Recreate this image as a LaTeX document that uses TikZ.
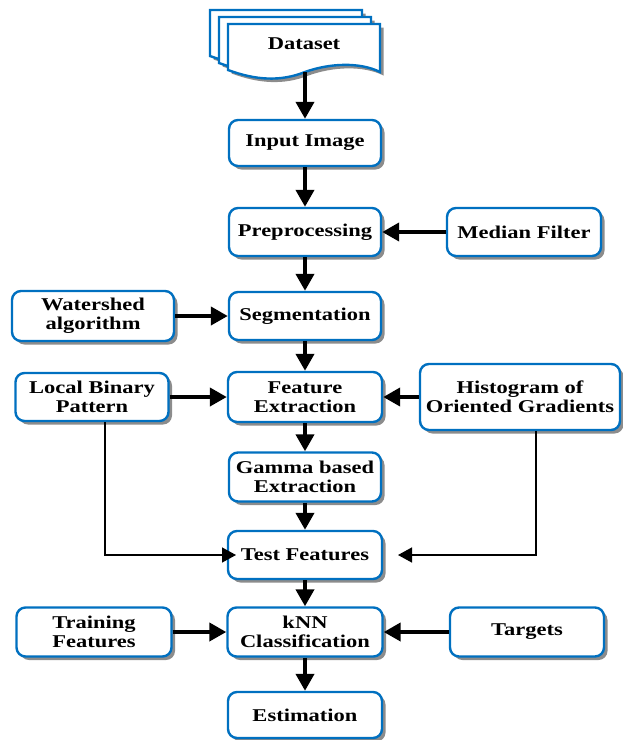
\documentclass[tikz,border=0pt]{standalone}
\usepackage{fontspec}
\setmainfont{Liberation Serif}[FakeStretch=1.25]
\usetikzlibrary{arrows.meta,shadows}
\definecolor{boxblue}{RGB}{0,112,192}
\tikzset{
  blk/.style={draw=boxblue, line width=2.4pt, fill=white, rounded corners=9pt,
    align=center, inner sep=2pt,
    font=\fontsize{18}{19}\selectfont\bfseries,
    drop shadow={shadow xshift=3.5pt, shadow yshift=-3.5pt, fill=black, opacity=0.45}},
  thick arr/.style={line width=4pt, -{Triangle[length=17pt,width=18pt]}},
  thin arr/.style={line width=1.4pt, -{Triangle[length=14pt,width=15pt]}},
  page/.style={draw=boxblue, line width=2.4pt, fill=white,
    drop shadow={shadow xshift=3.5pt, shadow yshift=-3.5pt, fill=black, opacity=0.45}}
}
\begin{document}
\begin{tikzpicture}[x=1pt,y=-1pt]
\useasboundingbox (0,0) rectangle (623,740);
% Dataset (multi-document)
\foreach \dx/\dy in {-18/-14,-9/-7,0/0}{
  \path[page, shift={(\dx,\dy)}] (228,24) -- (380,24) -- (380,72)
     .. controls (360,62) and (330,63) .. (305,72)
     .. controls (280,82) and (255,80) .. (228,70) -- cycle;
}
\node[font=\fontsize{18}{19}\selectfont\bfseries] (ds) at (304,44) {Dataset};
\coordinate (dsb) at (305,72);

\node[blk, minimum width=152pt, minimum height=46pt] (inp) at (305,143) {Input Image};
\node[blk, minimum width=152pt, minimum height=48pt] (pre) at (305,232) {Preprocessing};
\node[blk, minimum width=154pt, minimum height=48pt] (med) at (524,232) {Median Filter};
\node[blk, minimum width=162pt, minimum height=50pt] (ws) at (93,316) {Watershed\\algorithm};
\node[blk, minimum width=152pt, minimum height=48pt] (seg) at (305,316) {Segmentation};
\node[blk, minimum width=153pt, minimum height=48pt] (lbp) at (92,397) {Local Binary\\Pattern};
\node[blk, minimum width=154pt, minimum height=50pt] (fe) at (305,397) {Feature\\Extraction};
\node[blk, minimum width=200pt, minimum height=66pt] (hog) at (520,397) {Histogram of\\Oriented Gradients};
\node[blk, minimum width=152pt, minimum height=49pt] (gam) at (305,477) {Gamma based\\Extraction};
\node[blk, minimum width=154pt, minimum height=48pt] (tst) at (305,555) {Test Features};
\node[blk, minimum width=155pt, minimum height=49pt] (trn) at (94,632) {Training\\Features};
\node[blk, minimum width=155pt, minimum height=49pt] (knn) at (305,632) {kNN\\Classification};
\node[blk, minimum width=154pt, minimum height=49pt] (tgt) at (527,632) {Targets};
\node[blk, minimum width=154pt, minimum height=46pt] (est) at (305,715) {Estimation};

% vertical flow
\draw[thick arr] (dsb) -- (inp.north);
\draw[thick arr] (inp.south) -- (pre.north);
\draw[thick arr] (pre.south) -- (seg.north);
\draw[thick arr] (seg.south) -- (fe.north);
\draw[thick arr] (fe.south) -- (gam.north);
\draw[thick arr] (gam.south) -- (tst.north);
\draw[thick arr] (tst.south) -- (knn.north);
\draw[thick arr] (knn.south) -- (est.north);
% horizontal inputs
\draw[thick arr] (med.west) -- (pre.east);
\draw[thick arr] (ws.east) -- (seg.west);
\draw[thick arr] (lbp.east) -- (fe.west);
\draw[thick arr] (hog.west) -- (fe.east);
\draw[thick arr] (trn.east) -- (knn.west);
\draw[thick arr] (tgt.west) -- (knn.east);
% thin feature lines
\coordinate (lt) at (236,555);
\coordinate (rt) at (398,555);
\draw[thin arr] (lbp.south -| 105,0) -- (105,555) -- (lt);
\draw[thin arr] (hog.south -| 536,0) -- (536,555) -- (rt);
\end{tikzpicture}
\end{document}
